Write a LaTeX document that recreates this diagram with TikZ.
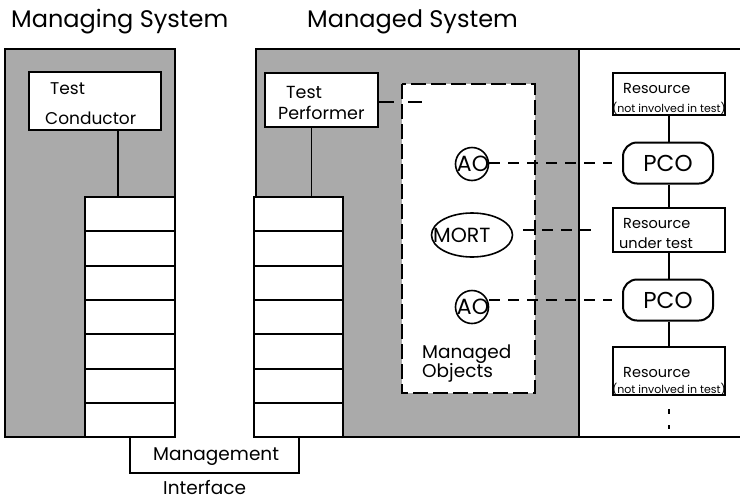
\documentclass[tikz,border=0pt]{standalone}
\usepackage{fontspec}
\usetikzlibrary{shapes.geometric}
\setmainfont{Poppins}
\newcommand\fsz[1]{\fontsize{#1}{#1}\selectfont}
\definecolor{dither}{RGB}{170,170,170}
\tikzset{
  frame/.style={line width=2pt},
  box/.style={draw, line width=2pt, fill=white, inner sep=0pt},
  cell/.style={box, minimum height=34.3pt},
  txt/.style={inner sep=0pt, anchor=base west},
  link/.style={line width=1.6pt},
  assoc/.style={line width=1.3pt, dash pattern=on 11pt off 8pt},
}
\begin{document}
\begin{tikzpicture}[x=1pt, y=-1pt]
\useasboundingbox (0,0) rectangle (740,499);

% titles
\node[txt, font=\fsz{24}] (t1) at (11,27) {Managing System};
\node[txt, font=\fsz{24}] (t2) at (307,27) {Managed System};

% managing system frame
\fill[dither] (5,49) rectangle (175,437);
\draw[frame] (5,49) rectangle (175,437);

% managed system frame
\fill[dither] (256,49) rectangle (579,437);
\draw[frame] (740,49) -- (256,49) -- (256,437) -- (740,437);
\draw[frame] (579,49) -- (579,437);

% managed objects container
\draw[line width=1.6pt, fill=white, dash pattern=on 15pt off 5pt] (402,84) rectangle (535,393);
\node[txt, font=\fsz{18.5}, align=left, anchor=north west] (mo) at (422,345) {Managed\\[-1pt]Objects};

% protocol stacks
\foreach \i in {1,...,7}{
  \node[cell, minimum width=90pt] (l\i) at (130,{197+17.15+34.3*(\i-1)}) {};
  \node[cell, minimum width=89pt] (r\i) at (298.5,{197+17.15+34.3*(\i-1)}) {};
}

% management interface
\draw[line width=1.6pt] (l7.south -| 130,0) -- (130,473) coordinate (mi1) -- (299,473) coordinate (mi2) -- (r7.south -| 299,0);
\node[txt, font=\fsz{18.5}] (mgmt) at (153,460) {Management};
\node[txt, font=\fsz{18.5}] (intf) at (163,494) {Interface};

% test conductor / performer
\node[box, minimum width=132pt, minimum height=58pt] (cond) at (95,101) {};
\node[txt, font=\fsz{17}] (condA) at (50,94) {Test};
\node[txt, font=\fsz{17}] (condB) at (45,124) {Conductor};
\draw[link] ([xshift=23pt]cond.south) -- ([xshift=23pt]cond.south |- l1.north);

\node[box, minimum width=113pt, minimum height=54pt] (perf) at (321.5,100) {};
\node[txt, font=\fsz{17.5}] (perfA) at (286,98) {Test};
\node[txt, font=\fsz{17.5}] (perfB) at (278,119) {Performer};
\draw[link] ([xshift=-10pt]perf.south) -- ([xshift=-10pt]perf.south |- r1.north);
\coordinate (perfEnd) at (422,102);
\draw[line width=1.3pt, dash pattern=on 15pt off 14pt on 15pt] (perf.east |- perfEnd) -- (perfEnd);

% managed objects
\node[draw, circle, line width=1.6pt, minimum size=33pt, inner sep=0pt] (ao1) at (472,164) {};
\node[font=\fsz{22}, inner sep=0pt] (ao1t) at (473,164) {AO};
\node[draw, ellipse, line width=1.6pt, minimum width=81pt, minimum height=44pt, inner sep=0pt] (mort) at (472,235) {};
\node[txt, font=\fsz{20.5}] (mortt) at (433,242) {MORT};
\node[draw, circle, line width=1.6pt, minimum size=33pt, inner sep=0pt] (ao2) at (472,307) {};
\node[font=\fsz{22}, inner sep=0pt] (ao2t) at (473,307) {AO};

% resources and protocol coordination objects
\tikzset{res/.style={box, minimum width=112pt}, pco/.style={box, rounded corners=14pt, minimum width=90pt, minimum height=41pt}}
\node[res, minimum height=42pt] (resA) at (669,94) {};
\node[txt, font=\fsz{14.5}] (resAt) at (623,93) {Resource};
\node[inner sep=0pt, anchor=base, font=\fsz{11}] (resAn) at (669,112) {(not involved in test)};

\node[pco] (pco1) at (668,163) {};
\node[font=\fsz{23}, inner sep=0pt] (pco1t) at (668,163) {PCO};

\node[res, minimum height=44pt] (resB) at (669,230) {};
\node[txt, font=\fsz{14.5}] (resBt) at (623,228) {Resource};
\node[txt, font=\fsz{14.5}] (resBu) at (619,248) {under test};

\node[pco] (pco2) at (668,300) {};
\node[font=\fsz{23}, inner sep=0pt] (pco2t) at (668,300) {PCO};

\node[res, minimum height=48pt] (resC) at (669,371) {};
\node[txt, font=\fsz{14.5}] (resCt) at (623,377) {Resource};
\node[inner sep=0pt, anchor=base, font=\fsz{11}] (resCn) at (669,393) {(not involved in test)};

\draw[link] (resA.south -| 669,0) -- (pco1.north -| 669,0);
\draw[link] (pco1.south -| 669,0) -- (resB.north -| 669,0);
\draw[link] (resB.south -| 669,0) -- (pco2.north -| 669,0);
\draw[link] (pco2.south -| 669,0) -- (resC.north -| 669,0);
\coordinate (more) at (669,429);
\draw[line width=1.6pt, dash pattern=on 0pt off 13pt on 5pt off 11pt on 5pt] (resC.south -| more) -- (more);

% associations between managed objects and resources
\draw[assoc, shorten >=10pt] (ao1.east |- pco1) -- (pco1.west);
\draw[assoc, shorten >=10pt] (ao2.east |- pco2) -- (pco2.west);
\draw[assoc, shorten <=10pt, shorten >=13pt] (mort.east |- resB) -- (resB.west);
\end{tikzpicture}
\end{document}
